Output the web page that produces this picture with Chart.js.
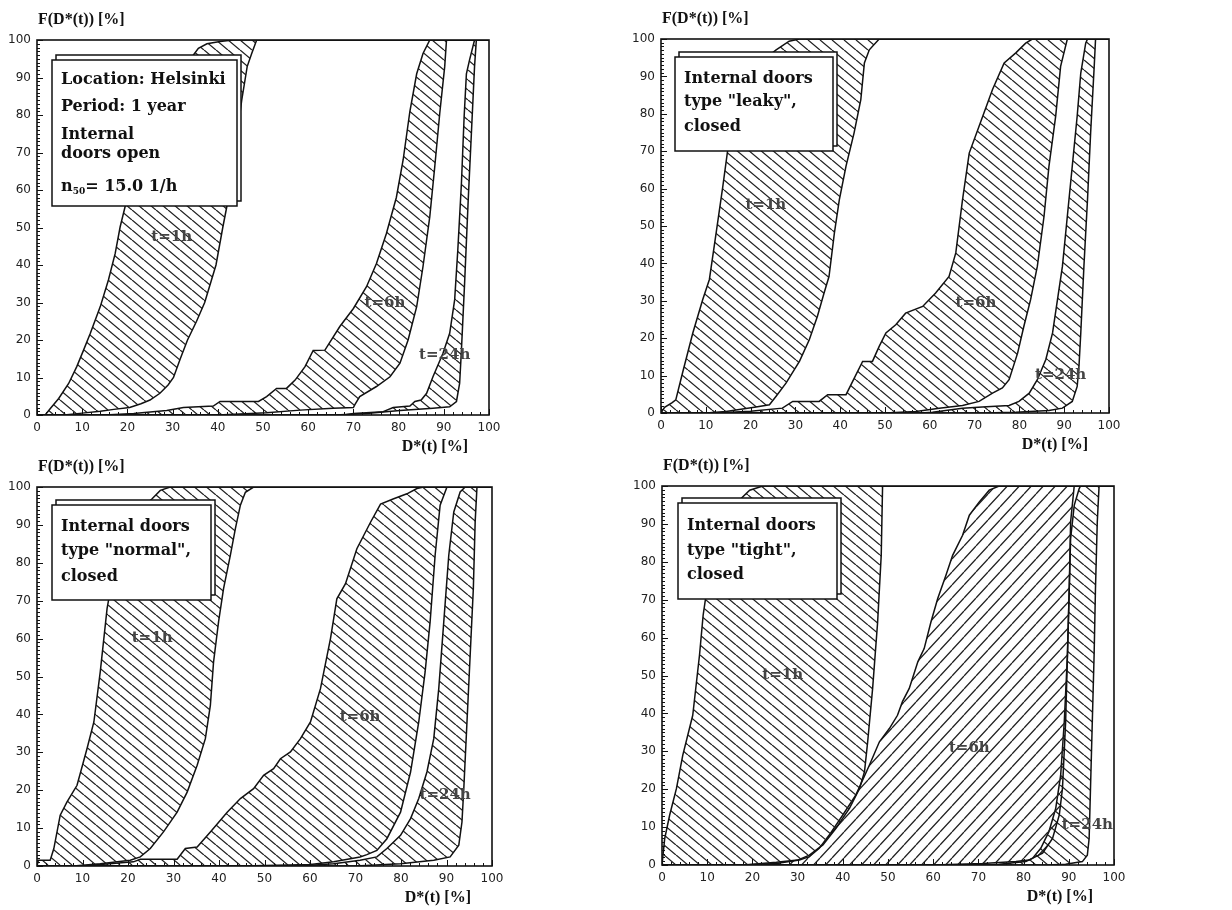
<!DOCTYPE html>
<html><head><meta charset="utf-8">
<script src="https://cdn.jsdelivr.net/npm/chart.js@4.4.0/dist/chart.umd.min.js"></script>
<style>
html,body{margin:0;padding:0;background:#fff;}
#wrap{position:relative;width:1232px;height:910px;overflow:hidden;background:#fff;}
canvas{position:absolute;}
</style></head><body><div id="wrap">
<canvas id="c1" width="616" height="455" style="left:0;top:0"></canvas>
<canvas id="c2" width="616" height="455" style="left:616px;top:0"></canvas>
<canvas id="c3" width="616" height="455" style="left:0;top:455px"></canvas>
<canvas id="c4" width="616" height="455" style="left:616px;top:455px"></canvas>
</div>
<script>
// ---------- tick labels ----------
const xTickValues = [0,10,20,30,40,50,60,70,80,90,100];
const yTickValues = [0,10,20,30,40,50,60,70,80,90,100];

// ---------- data: [D*(t) %, F %] boundary curves of each band ----------
// Panel 1: internal doors open
const open1hUpper = [[1.8,0],[3,1.8],[4.8,4.4],[7,8.4],[8.8,12.9],[10.3,17.3],[11.8,21.8],[14,28.9],[15.8,36],[17.3,43.1],[18.4,50.2],[19.5,55.6],[21.5,64],[24,73],[27,82],[30,89],[32.5,93.5],[34.6,96],[35.7,97.8],[37.6,99],[40.5,99.6],[43.4,100]];
const open1hLower = [[6,0],[10,0.5],[14,1],[17,1.5],[20.5,2],[23,3],[25,4],[27.2,5.8],[29,8],[30.2,10],[31.7,15],[33.3,20],[35.3,25],[37.1,30],[39.6,40],[41.1,50],[42,55.6],[43.4,66],[44.3,75],[45.3,84],[46.5,92.9],[47.5,96.4],[48.6,100]];
const open6hUpper = [[15,0],[21.4,0.4],[28.7,1.2],[32.4,2],[39,2.4],[40.5,3.6],[49,3.6],[50.8,4.9],[53,7.1],[55.2,7.1],[57.1,9.3],[59.3,12.9],[61.1,17.2],[63.7,17.3],[67,23.6],[70,28.4],[72.9,34.2],[75.1,40.4],[77.3,48.4],[79.5,58],[81,68],[82.5,81],[84,91],[85.4,96.4],[86.9,100]];
const open6hLower = [[40,0],[50.8,0.6],[58.2,1.3],[65.5,1.8],[70,2],[70.3,2.7],[71.4,4.9],[75.1,7.6],[78.1,10.2],[80.3,13.8],[82.1,20],[84,28.9],[85.4,39.6],[86.9,52.9],[88,66.2],[89.1,80.4],[90.2,92.9],[90.6,100]];
const open24hUpper = [[68,0],[70,0.4],[76.6,0.9],[78.8,2],[82.5,2.4],[83.6,3.6],[85,4],[86.2,5.8],[87.6,10.2],[89.8,16.4],[91.3,21.8],[92.4,30.7],[93.1,44],[93.9,61.8],[94.5,79.6],[95,91],[95.7,94.7],[96.8,100]];
const open24hLower = [[66,0],[72.9,0.4],[80.3,1.2],[87.6,1.8],[91.3,2.2],[92.8,3.6],[93.5,8.4],[93.9,17.3],[94.6,35.1],[95.4,57.3],[96.1,75],[96.8,92.9],[97.2,100]];

// Panel 2: internal doors "leaky", closed
const leaky1hUpper = [[0,0],[0.8,1.5],[2.5,2.8],[3.3,3.5],[4.8,10.7],[7.1,21.4],[9.3,30.3],[10.8,35.7],[12.3,48.1],[13.8,60.6],[14.9,70.4],[16.5,79],[18.5,86],[21,91.5],[23.5,95],[25.7,97.1],[28.6,99.4],[30.9,100]];
const leaky1hLower = [[10,0],[14.5,0.4],[21.2,1.6],[24.2,2.2],[25.7,4.5],[27.9,8],[30.9,13.8],[33.1,19.6],[34.9,25.8],[36.4,32.1],[37.5,36.5],[38.7,48.1],[39.8,57],[41.3,66],[43.1,74.9],[44.6,83.8],[45.4,93.6],[46.5,97.1],[48.7,100]];
const leaky6hUpper = [[12,0],[20,0.5],[27.1,1.3],[29.4,3.1],[35.3,3.1],[37.2,4.9],[41.3,4.9],[45,13.8],[47.2,13.8],[48.7,17.8],[50.2,21.4],[52.4,23.6],[54.6,26.7],[58.4,28.5],[61.3,32.1],[64.3,36.5],[65.8,42.8],[67.3,57],[68.8,69.5],[71,76.7],[74,86.5],[76.6,93.6],[79.2,96.3],[81.4,98.9],[82.9,100]];
const leaky6hLower = [[50,0],[56.9,0.4],[62.1,1.3],[67.3,2],[71,3.1],[74,5.3],[76.2,6.7],[77.7,8.9],[79.6,16],[81,23.2],[82.5,30.3],[84,39.2],[85.5,52.6],[86.6,66],[88.1,79.4],[89.2,92.7],[90.7,100]];
const leaky24hUpper = [[58,0],[60.6,0.2],[67.3,1.3],[71.7,1.6],[77.7,2],[79.9,3.1],[82.2,5.3],[84,8.9],[85.9,14.3],[87.4,21.4],[88.5,30.3],[89.6,39.2],[90.7,52.6],[91.8,66],[92.9,79.4],[93.7,90.9],[94.8,98.9],[95.2,100]];
const leaky24hLower = [[72,0],[79.2,0.2],[86.6,0.7],[89.6,1.3],[91.8,3.1],[92.9,7.1],[93.3,12.5],[93.7,21.4],[94.4,39.2],[95.2,57],[95.9,74.9],[96.7,92.7],[97,100]];

// Panel 3: internal doors "normal", closed
const normal1hUpper = [[0,0],[0.3,1.5],[2.9,1.5],[3.7,4.6],[5.1,13.4],[6.6,16.9],[8.8,21.3],[11,31],[12.5,38],[13.9,51.2],[15.4,67.9],[16,72],[17.5,80],[19.5,88],[22,93.5],[25.3,96.9],[27.1,99.1],[29.3,100]];
const normal1hLower = [[8,0],[13.9,0.6],[20.5,1.5],[22.7,2.4],[24.9,4.6],[27.8,9],[30.8,14.2],[33,19.5],[35.2,26.6],[37,33.6],[38.1,42.4],[38.8,53.8],[39.9,64.4],[41,73.2],[42.5,82],[43.6,89],[44.7,95.2],[45.8,98.6],[47.6,100]];
const normal6hUpper = [[10,0],[21.2,1.1],[22.7,1.8],[30.8,1.8],[32.6,4.6],[35.2,5],[38.1,9],[41.8,14.2],[44.7,17.8],[47.6,20.4],[49.8,23.9],[52,25.7],[53.5,28.3],[55.7,30.1],[57.9,33.6],[60.1,38],[62.3,46.8],[64.5,60],[65.9,70.5],[67.8,74.5],[70.3,83.7],[73.3,90.7],[75.5,95.5],[78.4,96.9],[81.3,98.2],[83.5,99.6],[85,100]];
const normal6hLower = [[45,0],[60.1,0.4],[65.2,1.1],[71,2.4],[72.5,3],[74.7,4.1],[76.9,7.2],[79.9,14.2],[82.1,24.8],[83.9,38],[85.3,51.2],[86.4,64.4],[87.5,82],[88.6,95.2],[90.1,100]];
const normal24hUpper = [[57.9,0],[65.2,0.6],[71,1.5],[74.7,2.4],[76.9,4.6],[79.9,8.1],[82.1,12.5],[83.9,17.8],[85.7,24.8],[87.2,33.6],[88.3,46.8],[89.4,64.4],[90.5,82],[91.6,93.4],[93,98.7],[94.1,100]];
const normal24hLower = [[70,0],[79.9,0.6],[87.2,1.5],[90.8,2.4],[92.7,5.5],[93.4,11.6],[93.8,20.4],[94.5,38],[95.2,55.6],[95.9,73.2],[96.3,90.8],[96.7,100]];

// Panel 4: internal doors "tight", closed
const tight1hUpper = [[0.2,0],[0.6,7],[1.7,13.2],[3.2,20.2],[4.6,29],[6.8,39.5],[8.3,55.4],[9.1,65.9],[9.6,70],[11,80],[13,88],[15.5,93.5],[17.5,96.7],[19.4,98.9],[22.3,100]];
const tight1hLower = [[18,0],[25.3,0.7],[30,1.3],[32.6,2.6],[35.6,5.3],[38.5,9.7],[41.5,15],[43.7,20.2],[44.8,24.6],[45.5,32.5],[46.6,46.6],[47.7,64],[48.5,81.7],[48.8,100]];
const tight6hUpper = [[18,0],[25.3,0.4],[28.2,0.9],[30.4,1.3],[32.6,2.2],[34.8,4.4],[37,7.9],[40,13.2],[42.9,18.5],[45.9,26.4],[48.1,32.5],[50.3,36],[52.1,39.5],[53.2,43.1],[54.7,46.6],[56.6,53.6],[58,57.1],[59.5,64.1],[61,70.3],[62.8,76.4],[64.3,81.7],[66.5,87],[68,92.3],[70.2,95.8],[72.4,98.9],[74.6,100]];
const tight6hLower = [[60,0],[70.9,0.4],[78.3,0.9],[81.2,1.3],[84.2,3.1],[86.4,7],[87.9,13.2],[88.6,20.2],[89.3,37.8],[89.7,55.4],[90.1,72.9],[90.4,90.5],[91.2,100]];
const tight24hUpper = [[72,0],[74.6,0.2],[80.5,0.9],[82,1.8],[83.8,4.4],[85.6,8.8],[87.1,14.9],[88.2,23.7],[89,37.8],[89.7,55.4],[90.1,72.9],[90.4,86.1],[91.2,94.9],[92.3,99.3],[92.6,100]];
const tight24hLower = [[85,0],[89.3,0.2],[93,0.9],[94.1,2.6],[94.5,7],[94.8,20.2],[95.2,37.8],[95.6,55.4],[95.9,72.9],[96.3,90.5],[96.7,100]];

const bandNames = ['t=1h','t=6h','t=24h'];
const AX_MIN = 0, AX_MAX = 100;

// ---------- panel layout ----------
const panels = [
  { id:'c1', yw:37, pad:{top:40,right:127,bottom:15},
    bands:[[open1hUpper,open1hLower,'\\'],[open6hUpper,open6hLower,'\\'],[open24hUpper,open24hLower,'\\']],
    labelAt:[[29.8,47.4],[77,29.8],[90.2,16]],
    box:{dx:15,dy:20,w:185,h:146, lines:[['Location: Helsinki',20],['Period: 1 year',47],['Internal',75],['doors open',94],['__n50',127]]} },
  { id:'c2', yw:45, pad:{top:39,right:123,bottom:17},
    bands:[[leaky1hUpper,leaky1hLower,'\\'],[leaky6hUpper,leaky6hLower,'\\'],[leaky24hUpper,leaky24hLower,'\\']],
    labelAt:[[23.4,55.7],[70.3,29.4],[89.2,10.2]],
    box:{dx:14,dy:18,w:158,h:94, lines:[['Internal doors',22],['type "leaky",',45],['closed',70]]} },
  { id:'c3', yw:37, pad:{top:32,right:124,bottom:19},
    bands:[[normal1hUpper,normal1hLower,'\\'],[normal6hUpper,normal6hLower,'\\'],[normal24hUpper,normal24hLower,'\\']],
    labelAt:[[25.3,60],[71,39.3],[89.7,18.6]],
    box:{dx:15,dy:18,w:159,h:95, lines:[['Internal doors',22],['type "normal",',46],['closed',72]]} },
  { id:'c4', yw:46, pad:{top:31,right:118,bottom:20},
    bands:[[tight1hUpper,tight1hLower,'\\'],[tight6hUpper,tight6hLower,'/'],[tight24hUpper,tight24hLower,'\\']],
    labelAt:[[26.7,50],[68,30.8],[94.1,10.5]],
    box:{dx:16,dy:17,w:159,h:96, lines:[['Internal doors',23],['type "tight",',48],['closed',72]]} }
];

function hatchPattern(ctx, dir){
  const w = 12, h = dir === '/' ? 13 : 10;
  const c = document.createElement('canvas'); c.width = w; c.height = h;
  const g = c.getContext('2d');
  g.strokeStyle = '#222'; g.lineWidth = 1.3;
  g.beginPath();
  for (const dx of [-w, 0, w]) {
    if (dir === '/') { g.moveTo(dx, h); g.lineTo(dx + w, 0); }
    else { g.moveTo(dx, 0); g.lineTo(dx + w, h); }
  }
  g.stroke();
  return ctx.createPattern(c, 'repeat');
}

// CDF curves are 0 below their first point and 100 beyond their last
function extend(pts){
  const out = [];
  if (pts[0][0] > AX_MIN) out.push({x:AX_MIN, y:0});
  for (const p of pts) out.push({x:p[0], y:p[1]});
  if (pts[pts.length-1][0] < AX_MAX) out.push({x:AX_MAX, y:100});
  return out;
}

const SERIF = '"DejaVu Serif", "Liberation Serif", serif';
const TSERIF = '"Liberation Serif", "DejaVu Serif", serif';
const SANS = '"DejaVu Sans", "Liberation Sans", sans-serif';

function makeChart(P){
  const canvas = document.getElementById(P.id);
  const ctx = canvas.getContext('2d');
  const datasets = [];
  P.bands.forEach((b, i) => {
    datasets.push({ label: bandNames[i] + ' upper', data: extend(b[0]), borderColor:'#111', borderWidth:1.5,
      pointRadius:0, tension:0, fill:false });
    datasets.push({ label: bandNames[i] + ' lower', data: extend(b[1]), borderColor:'#111', borderWidth:1.5,
      pointRadius:0, tension:0, fill:'-1', backgroundColor: hatchPattern(ctx, b[2]) });
  });

  const deco = {
    id:'deco_' + P.id,
    afterDatasetsDraw(chart){
      const c = chart.ctx, a = chart.chartArea, xs = chart.scales.x, ys = chart.scales.y;
      c.save();
      c.strokeStyle = '#111'; c.lineWidth = 1;
      c.beginPath();
      for (let v = AX_MIN; v <= AX_MAX; v += 1) {
        const py = Math.round(ys.getPixelForValue(v)) + 0.5;
        const len = v % 10 === 0 ? 6 : 3;
        c.moveTo(a.left, py); c.lineTo(a.left + len, py);
      }
      for (let v = AX_MIN; v <= AX_MAX; v += 2) {
        const px = Math.round(xs.getPixelForValue(v)) + 0.5;
        const len = v % 10 === 0 ? 6 : 3;
        c.moveTo(px, a.bottom); c.lineTo(px, a.bottom - len);
      }
      c.stroke();
      c.lineWidth = 1.6;
      c.strokeRect(a.left, a.top, a.right - a.left, a.bottom - a.top);
      // band labels
      c.font = 'bold 15px ' + SERIF; c.fillStyle = '#444';
      c.textAlign = 'center'; c.textBaseline = 'middle';
      P.labelAt.forEach((L, i) => {
        c.fillText(bandNames[i], xs.getPixelForValue(L[0]), ys.getPixelForValue(L[1]));
      });
      c.restore();
    },
    afterDraw(chart){
      const c = chart.ctx, a = chart.chartArea;
      c.save();
      // axis titles
      c.fillStyle = '#111';
      c.font = 'bold 16px ' + TSERIF;
      c.textBaseline = 'middle';
      c.textAlign = 'left';
      c.fillText('F(D*(t)) [%]', a.left + 1, a.top - 20);
      c.textAlign = 'right';
      c.fillText('D*(t) [%]', a.right - 21, a.bottom + 32);
      // info box (stacked frame)
      const B = P.box, bx = a.left + B.dx, by = a.top + B.dy;
      c.lineWidth = 1.5; c.strokeStyle = '#111'; c.fillStyle = '#fff';
      c.fillRect(bx + 4, by - 5, B.w, B.h); c.strokeRect(bx + 4, by - 5, B.w, B.h);
      c.fillRect(bx, by, B.w, B.h); c.strokeRect(bx, by, B.w, B.h);
      c.fillStyle = '#111'; c.textAlign = 'left'; c.textBaseline = 'middle';
      const big = 'bold 16px ' + SERIF;
      c.font = big;
      B.lines.forEach(([t, dy]) => {
        const tx = bx + 9, ty = by + dy;
        if (t === '__n50') {
          c.font = big;
          c.fillText('n', tx, ty);
          let w = c.measureText('n').width;
          c.font = 'bold 9px ' + SERIF;
          c.fillText('50', tx + w, ty + 5);
          w += c.measureText('50').width;
          c.font = big;
          c.fillText('= 15.0 1/h', tx + w, ty);
        } else {
          c.fillText(t, tx, ty);
        }
      });
      c.restore();
    }
  };

  return new Chart(ctx, {
    type:'line',
    data:{ datasets },
    options:{
      responsive:false, animation:false, devicePixelRatio:1,
      layout:{ padding:{ left:0, top:P.pad.top, right:P.pad.right, bottom:P.pad.bottom } },
      plugins:{ legend:{display:false}, tooltip:{enabled:false}, title:{display:false} },
      scales:{
        x:{ type:'linear', min:AX_MIN, max:AX_MAX,
            afterBuildTicks:(s) => { s.ticks = xTickValues.map(v => ({value:v})); },
            ticks:{ font:{family:SANS, size:12}, color:'#222', padding:6, maxRotation:0, autoSkip:false,
                    callback:(v) => String(v) },
            grid:{ display:false, drawTicks:false }, border:{ display:false },
            afterFit:(s) => { s.height = 25; } },
        y:{ type:'linear', min:AX_MIN, max:AX_MAX,
            afterBuildTicks:(s) => { s.ticks = yTickValues.map(v => ({value:v})); },
            ticks:{ font:{family:SANS, size:12}, color:'#222', padding:6, autoSkip:false,
                    callback:(v) => String(v) },
            grid:{ display:false, drawTicks:false }, border:{ display:false },
            afterFit:(s) => { s.width = P.yw; } }
      }
    },
    plugins:[deco]
  });
}

panels.forEach(makeChart);
</script>
</body></html>
